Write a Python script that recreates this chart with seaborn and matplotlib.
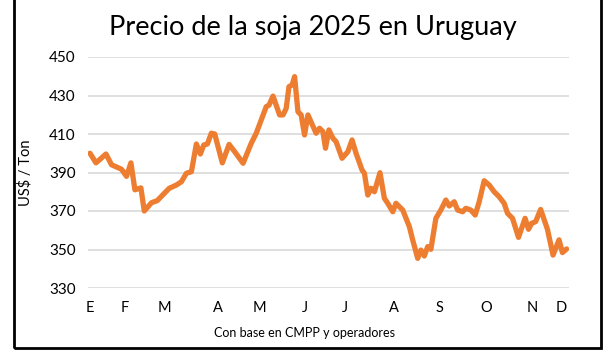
import matplotlib
matplotlib.use("Agg")
import matplotlib.pyplot as plt
import seaborn as sns
import pandas as pd
from matplotlib.patches import Rectangle

# trading-session index (approx.) and price in US$/Ton, in groups of 10
session = [0, 3, 8, 10.8, 15.8, 18.3, 20.5, 22.5, 25.5, 27.2,
           30.8, 33.7, 39.7, 43.3, 45.8, 48.3, 50.8, 53.3, 55.3, 57,
           58.8, 60.8, 62.5, 66.3, 69.7, 72.5, 76.7, 80.8, 83.3, 88.3,
           89.7, 91.7, 95, 96.7, 98.3, 99.7, 101.3, 102.5, 104.2, 105.8,
           107.5, 109.2, 113.3, 115, 116.7, 118, 119.7, 121.7, 123.3, 126.3,
           129.2, 131.3, 133.3, 136.3, 137.5, 139.2, 140.8, 142.5, 145.3, 147.5,
           149.2, 151.7, 153.3, 156.7, 160, 161.7, 164.2, 165.8, 167.5, 169.2,
           170.8, 173.3, 175.8, 178.3, 180, 182.5, 184.2, 186.7, 188.3, 190.8,
           193, 195, 197.5, 200, 202.5, 205, 207.5, 209.2, 211.7, 214.7,
           218, 219.7, 221.3, 223.3, 225.8, 229.2, 232, 235, 236.7, 238.8]
price = [400, 395, 399.6, 394, 391.7, 388, 395, 381, 382, 370,
         374.3, 375.4, 381.8, 383.5, 385.2, 389.6, 390.4, 404.8, 399.6, 404.3,
         404.8, 410.4, 410, 395, 404.6, 400.8, 394.8, 405.2, 410.4, 424.2,
         425, 429.7, 419.9, 419.9, 423.3, 434.6, 435.5, 439.8, 421.6, 419.9,
         409.5, 419.9, 410.4, 413, 411.2, 402.6, 412.1, 407.8, 406, 397.4,
         400.8, 406.9, 400, 391.3, 389.6, 378.3, 381.8, 380, 389.9, 376.6,
         374, 369.6, 374, 370.5, 361.9, 354.9, 345.4, 349.7, 346.6, 351.5,
         350.1, 366.2, 370.5, 375.7, 372.6, 374.8, 370.5, 369.6, 371.4, 370.5,
         367.9, 374.8, 385.7, 383.5, 380, 377.4, 374, 368.8, 366.2, 356.3,
         366.2, 360.5, 363.6, 364.5, 370.8, 360.5, 347.1, 355, 348.4, 350.3]

month_pos = [0, 17.5, 37.5, 64, 85, 107.5, 127.5, 152.5, 175, 198.5, 221.5, 236]
month_labels = ["E", "F", "M", "A", "M", "J", "J", "A", "S", "O", "N", "D"]
y_ticks = [330, 350, 370, 390, 410, 430, 450]

df = pd.DataFrame({"session": session, "price": price})

sns.set_theme(style="white")
plt.rcParams["font.family"] = ["Lato", "DejaVu Sans"]

fig = plt.figure(figsize=(6.15, 3.57), dpi=100)
L, R, T, B = 88, 569, 57, 288
ax = fig.add_axes([L / 615, 1 - B / 357, (R - L) / 615, (B - T) / 357])

sns.lineplot(data=df, x="session", y="price", ax=ax, color="#ED7D31",
             linewidth=3.8, solid_joinstyle="round", solid_capstyle="round")

ax.set_xlim(-1, 240)
ax.set_ylim(330, 450)
ax.set_yticks(y_ticks)
ax.set_yticklabels([str(v) for v in y_ticks], fontsize=11, color="#000000")
ax.set_xticks(month_pos)
ax.set_xticklabels(month_labels, fontsize=10.5, color="#000000")
ax.tick_params(axis="both", length=0, pad=9)
ax.yaxis.grid(True, color="#D9D9D9", linewidth=1.2)
ax.xaxis.grid(False)
for s in ax.spines.values():
    s.set_visible(False)
ax.set_ylabel("US$ / Ton", fontsize=10.5, color="#000000", labelpad=12)
ax.set_xlabel("Con base en CMPP y operadores", fontsize=9, color="#000000")
ax.xaxis.set_label_coords((305 - L) / (R - L), -(333 - B) / (B - T))
ax.xaxis.label.set_va("center")

fig.text(313 / 615, 1 - 27 / 357, "Precio de la soja 2025 en Uruguay",
         ha="center", va="center", fontsize=19.5, color="#000000")

fig.patches.append(Rectangle((14 / 615, 1 - 348 / 357), (601 - 14) / 615, (348 + 5) / 357,
                             transform=fig.transFigure, fill=False,
                             edgecolor="#000000", linewidth=2, clip_on=False))

fig.savefig("out.png", dpi=100)
